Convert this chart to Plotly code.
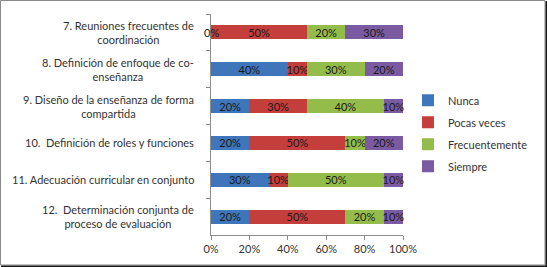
import plotly.graph_objects as go

categories = [
    "7. Reuniones frecuentes de<br>coordinación",
    "8. Definición de enfoque de co-<br>enseñanza",
    "9. Diseño de la enseñanza de forma<br>compartida",
    "10.  Definición de roles y funciones",
    "11. Adecuación curricular en conjunto",
    "12.  Determinación conjunta de<br>proceso de evaluación",
]
series_names = ["Nunca", "Pocas veces", "Frecuentemente", "Siempre"]
nunca = [0, 40, 20, 20, 30, 20]
pocas = [50, 10, 30, 50, 10, 50]
frecuente = [20, 30, 40, 10, 50, 20]
siempre = [30, 20, 10, 20, 10, 10]
x_ticks = [0, 20, 40, 60, 80, 100]
x_tick_labels = ["0%", "20%", "40%", "60%", "80%", "100%"]

colors = ["#3F75BA", "#C43E3C", "#94BC4A", "#7A5AA0"]
FONT = "Lato, Carlito, Open Sans, sans-serif"
TXT = "#1a1a1a"

all_series = [nunca, pocas, frecuente, siempre]

fig = go.Figure()
for i, (name, vals) in enumerate(zip(series_names, all_series)):
    fig.add_trace(go.Bar(
        y=categories, x=vals, name=name, orientation="h",
        marker=dict(color=colors[i], line=dict(width=0)),
        text=[f"{v}%" for v in vals], textposition="inside",
        insidetextanchor="middle", constraintext="none",
        textfont=dict(family=FONT, size=11, color=TXT),
        cliponaxis=False, legendgroup=name, width=0.38,
        hoverinfo="skip",
    ))

# labels for zero-width segments (hidden by plotly otherwise)
for j, c in enumerate(categories):
    base = 0
    for i, vals in enumerate(all_series):
        if vals[j] == 0:
            fig.add_annotation(x=base, y=c, xref="x", yref="y", text=f"{vals[j]}%",
                               showarrow=False, font=dict(family=FONT, size=11, color=TXT))
        base += vals[j]

fig.update_layout(
    barmode="stack",
    width=547, height=267,
    margin=dict(l=211, r=144, t=14, b=32, autoexpand=False),
    paper_bgcolor="white", plot_bgcolor="white",
    font=dict(family=FONT, size=11, color="#333333"),
    showlegend=True,
    legend=dict(
        x=1.026, y=0.46, xanchor="left", yanchor="middle",
        traceorder="grouped", tracegroupgap=3,
        font=dict(family=FONT, size=11, color="#333333"),
        itemwidth=30, bgcolor="rgba(0,0,0,0)",
    ),
    xaxis=dict(
        range=[0, 100], tickvals=x_ticks, ticktext=x_tick_labels,
        showgrid=False, zeroline=False, showline=True, linecolor="#8c8c8c",
        ticks="outside", ticklen=4, tickcolor="#8c8c8c",
        tickfont=dict(family=FONT, size=11, color="#333333"),
    ),
    yaxis=dict(
        autorange="reversed", showgrid=False, zeroline=False,
        showline=True, linecolor="#8c8c8c", ticks="outside", ticklen=4,
        tickcolor="#8c8c8c", tickson="boundaries", showticklabels=False,
    ),
)

for c in categories:
    fig.add_annotation(
        x=0, xref="paper", y=c, yref="y", text=c, showarrow=False,
        xanchor="right", align="center", xshift=-15,
        font=dict(family=FONT, size=11, color="#333333"),
    )

# chart frame
pw, ph = 192.0, 221.0
def px_x(p):
    return (p - 211) / pw
def px_y(p):
    return (235 - p) / ph
fig.add_shape(type="rect", xref="paper", yref="paper",
              x0=px_x(0.5), x1=px_x(545), y0=px_y(265), y1=px_y(0.5),
              line=dict(color="#8a8a8a", width=1))
fig.add_shape(type="rect", xref="paper", yref="paper",
              x0=px_x(545.5), x1=px_x(548), y0=px_y(267), y1=px_y(1),
              line=dict(width=0), fillcolor="#1a1a1a")
fig.add_shape(type="rect", xref="paper", yref="paper",
              x0=px_x(1), x1=px_x(548), y0=px_y(268), y1=px_y(265.5),
              line=dict(width=0), fillcolor="#1a1a1a")

fig.write_html(
    "out.html",
    config={"displayModeBar": False},
    post_script="document.body.style.margin='0';document.body.style.overflow='hidden';",
)
